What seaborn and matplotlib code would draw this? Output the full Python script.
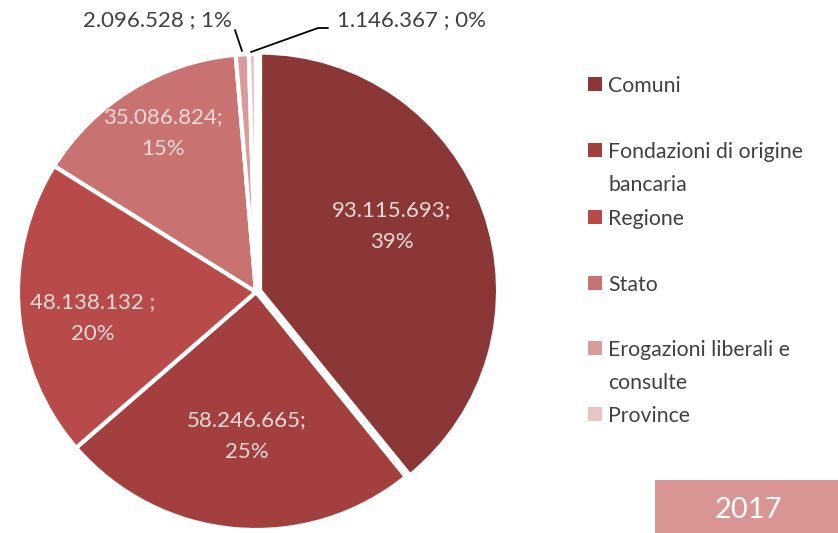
import matplotlib
matplotlib.use("Agg")
import matplotlib.pyplot as plt
from matplotlib.patches import Rectangle
import seaborn as sns

# Funding sources, 2017 (euro)
categories = ["Comuni", "Fondazioni di origine\nbancaria", "Regione", "Stato",
              "Erogazioni liberali e\nconsulte", "Province"]
amounts = [93115693, 58246665, 48138132, 35086824, 2096528, 1146367]
value_labels = ["93.115.693;", "58.246.665;", "48.138.132 ;", "35.086.824;",
                "2.096.528 ; 1%", "1.146.367 ; 0%"]
percent_labels = ["39%", "25%", "20%", "15%", "", ""]
year_label = "2017"

colors = ["#8C3737", "#A3403F", "#B84B49", "#C87371", "#D99B9B", "#E8C4C4"]

sns.set_theme(style="white")
plt.rcParams["font.family"] = ["Lato", "DejaVu Sans"]

W, H = 838, 533
fig = plt.figure(figsize=(W / 100, H / 100), dpi=100)
fig.patch.set_facecolor("white")

# pie geometry in pixels
cx, cy, R = 256, 292, 238
ax = fig.add_axes([(cx - R) / W, (H - cy - R) / H, 2 * R / W, 2 * R / H])

wedges, _ = ax.pie(amounts, colors=colors, startangle=90, counterclock=False,
                   explode=[0.018, 0, 0, 0, 0, 0], radius=1,
                   wedgeprops=dict(edgecolor="white", linewidth=3))
ax.set_xlim(-1, 1)
ax.set_ylim(-1, 1)
ax.set_axis_off()
for w in wedges:
    w.set_clip_on(False)

def to_data(px, py):
    return (px - cx) / R, (cy - py) / R

inner_color = "#F2DCDB"
text_color = "#404040"
fs = 16

# labels inside the four large slices (pixel centres of the text blocks)
inner_pos = [(392, 226), (247, 436), (93, 318), (163, 133)]
for i, (px, py) in enumerate(inner_pos):
    x, y = to_data(px, py)
    ax.text(x, y, value_labels[i] + "\n" + percent_labels[i], ha="center", va="center",
            color=inner_color, fontsize=fs, linespacing=1.7)

# small slices: outside labels with leader lines
x, y = to_data(232, 20)
ax.text(x, y, value_labels[4], ha="right", va="center", color=text_color, fontsize=fs)
x0, y0 = to_data(242, 51)
x1, y1 = to_data(235, 30)
ax.plot([x0, x1], [y0, y1], color="black", lw=1.3, clip_on=False)

x, y = to_data(337, 20)
ax.text(x, y, value_labels[5], ha="left", va="center", color=text_color, fontsize=fs)
pts = [to_data(251, 52), to_data(318, 28), to_data(328, 28)]
ax.plot([p[0] for p in pts], [p[1] for p in pts], color="black", lw=1.3, clip_on=False)

# legend: square marker plus one text line per row of the entry
legend_y = [84, 150, 217, 283, 348, 414]
line_step = 33
for name, col, ly in zip(categories, colors, legend_y):
    fig.patches.append(Rectangle((588 / W, 1 - (ly + 7) / H), 14 / W, 14 / H,
                                 transform=fig.transFigure, facecolor=col,
                                 edgecolor="none"))
    for k, line in enumerate(name.split("\n")):
        fig.text(608 / W, 1 - (ly + 8 + k * line_step) / H, line, ha="left",
                 va="baseline", color=text_color, fontsize=15.3)

# year badge
fig.patches.append(Rectangle((655 / W, 0), (W - 655) / W, 53 / H,
                             transform=fig.transFigure, facecolor="#D99594",
                             edgecolor="none"))
fig.text(748 / W, 1 - 510 / H, year_label, ha="center", va="center",
         color="white", fontsize=21)

fig.savefig("out.png", dpi=100, facecolor="white")
